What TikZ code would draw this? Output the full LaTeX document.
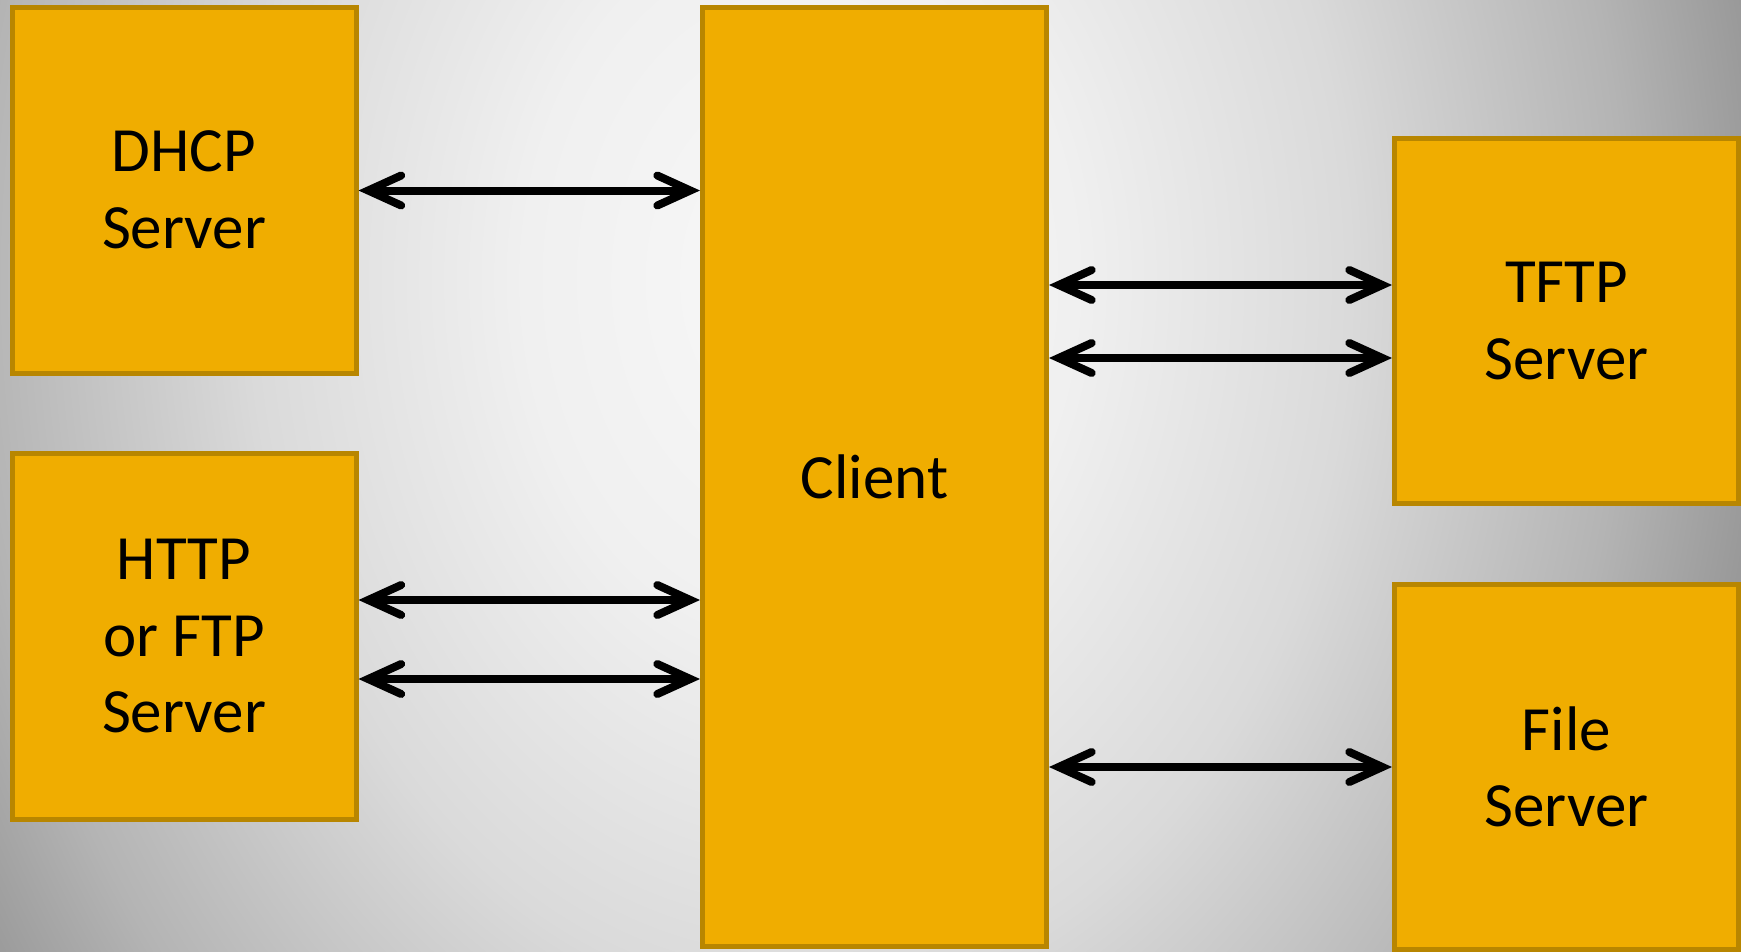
\documentclass[tikz,border=0pt]{standalone}
\usepackage{fontspec}
\setmainfont{Carlito}
\usetikzlibrary{arrows.meta}

% colours
\definecolor{boxfill}{RGB}{240,173,0}
\definecolor{boxline}{RGB}{184,134,0}
\definecolor{bgA}{RGB}{248,248,248}
\definecolor{bgB}{RGB}{240,240,240}
\definecolor{bgC}{RGB}{218,218,218}
\definecolor{bgD}{RGB}{180,180,180}
\definecolor{bgE}{RGB}{127,127,127}

% soft grey glow behind the diagram (the path edge sits at 25bp)
\pgfdeclareradialshading{backglow}{\pgfpoint{0bp}{0bp}}{%
  color(0bp)=(bgA); color(6.25bp)=(bgB); color(12.5bp)=(bgC);
  color(18.75bp)=(bgD); color(25bp)=(bgE); color(50bp)=(bgE)}

\tikzset{
  server/.style={draw=boxline, fill=boxfill, line width=5pt, rectangle,
    align=center, inner sep=0pt, text=black,
    font=\fontsize{63}{76.5}\selectfont},
  barbtip/.tip={Straight Barb[length=33pt,width=30pt,line cap=round,line join=miter]},
  link/.style={line width=8pt, draw=black, {barbtip}-{barbtip}}
}

\begin{document}
\begin{tikzpicture}[x=1pt,y=-1pt]
  \useasboundingbox (0,0) rectangle (1741,951);

  % background
  \begin{scope}
    \clip (0,0) rectangle (1741,951);
    \fill[bgE] (0,0) rectangle (1741,951);
    \shade[shading=backglow] (800,280) ellipse [x radius=1100, y radius=1430];
  \end{scope}

  % boxes
  \node[server, minimum width=344pt, minimum height=366pt] (dhcp) at (184,190) {DHCP\\Server};
  \node[server, minimum width=344pt, minimum height=366pt] (http) at (184,636) {HTTP\\or FTP\\Server};
  \node[server, minimum width=344pt, minimum height=939pt] (client) at (874.5,477) {Client};
  \node[server, minimum width=344pt, minimum height=365pt] (tftp) at (1566.5,321) {TFTP\\Server};
  \node[server, minimum width=344pt, minimum height=365pt] (file) at (1566.5,767) {File\\Server};

  % connections
  \draw[link] (dhcp.east |- {(0,190.5)}) -- (client.west |- {(0,190.5)});
  \draw[link] (http.east |- {(0,600)}) -- (client.west |- {(0,600)});
  \draw[link] (http.east |- {(0,679)}) -- (client.west |- {(0,679)});
  \draw[link] (client.east |- {(0,285)}) -- (tftp.west |- {(0,285)});
  \draw[link] (client.east |- {(0,358)}) -- (tftp.west |- {(0,358)});
  \draw[link] (client.east |- {(0,767)}) -- (file.west |- {(0,767)});
\end{tikzpicture}
\end{document}
